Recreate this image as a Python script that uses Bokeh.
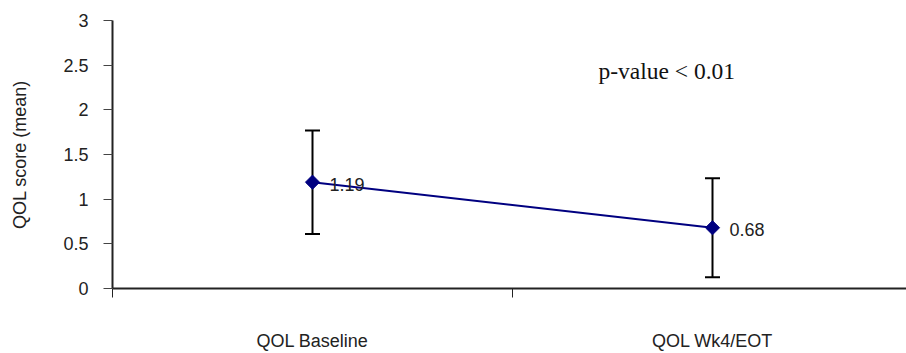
import math
from bokeh.plotting import figure
from bokeh.models import Range1d, FixedTicker, Whisker, TeeHead, ColumnDataSource, Label
from bokeh.core.properties import value
from bokeh.embed import file_html
from bokeh.resources import INLINE

categories = ["QOL Baseline", "QOL Wk4/EOT"]
means = [1.19, 0.68]
errors = [0.58, 0.555]
y_ticks = [0, 0.5, 1, 1.5, 2, 2.5, 3]
y_tick_labels = ["0", "0.5", "1", "1.5", "2", "2.5", "3"]
annotation_text = "p-value < 0.01"
y_title = "QOL score (mean)"

FONT = "Liberation Sans"

xs = [i + 0.5 for i in range(len(categories))]
src = ColumnDataSource(dict(
    x=xs, y=means,
    upper=[m + e for m, e in zip(means, errors)],
    lower=[m - e for m, e in zip(means, errors)],
    lbl=[f"{m:.2f}" for m in means],
))

p = figure(width=906, height=353, output_backend="svg", toolbar_location=None,
           x_range=Range1d(0, 1.985), y_range=Range1d(0, 3),
           min_border_left=112, min_border_top=20, min_border_bottom=64,
           min_border_right=0, outline_line_color=None)
p.xgrid.visible = False
p.ygrid.visible = False

# x axis
xa = p.xaxis[0]
xa.ticker = FixedTicker(ticks=xs, minor_ticks=list(range(len(categories) + 1)))
xa.major_label_overrides = {x: c for x, c in zip(xs, categories)}
xa.major_tick_out = 0
xa.major_tick_in = 0
xa.minor_tick_out = 0
xa.minor_tick_in = -9
xa.minor_tick_line_color = "#222"
xa.axis_line_color = "#222"
xa.axis_line_width = 2
xa.major_label_standoff = 42
xa.major_label_text_font = FONT
xa.major_label_text_font_size = "18px"
xa.major_label_text_color = "#222"

# y axis
ya = p.yaxis[0]
ya.ticker = FixedTicker(ticks=y_ticks, minor_ticks=[])
ya.major_label_overrides = {t: l for t, l in zip(y_ticks, y_tick_labels)}
ya.major_tick_out = 9
ya.major_tick_in = 0
ya.minor_tick_out = 0
ya.minor_tick_in = 0
ya.major_tick_line_color = "#444"
ya.axis_line_color = "#222"
ya.axis_line_width = 2
ya.major_label_standoff = 15
ya.major_label_text_font = FONT
ya.major_label_text_font_size = "18px"
ya.major_label_text_color = "#222"
ya.axis_label = y_title
ya.axis_label_text_font = FONT
ya.axis_label_text_font_size = "18px"
ya.axis_label_text_font_style = "normal"
ya.axis_label_text_color = "#222"
ya.axis_label_standoff = 30

# error bars
head = dict(size=15, line_width=2, line_color="black")
p.add_layout(Whisker(base="x", upper="upper", lower="lower", source=src,
                     line_width=2, line_color="black",
                     upper_head=TeeHead(**head), lower_head=TeeHead(**head)))

p.line("x", "y", source=src, line_color="#000080", line_width=2)
p.scatter("x", "y", source=src, marker="square", angle=math.pi / 4, size=10,
          fill_color="#000080", line_color="#000080")
p.text("x", "y", text="lbl", source=src, x_offset=17, y_offset=2,
       text_baseline="middle", text_font=value(FONT), text_font_size="18px",
       text_color="#222")

p.add_layout(Label(x=1.215, y=2.43, text=annotation_text, text_baseline="middle",
                   text_font="Liberation Serif", text_font_size="23.5px",
                   text_color="#111"))

open("out.html", "w").write(file_html(p, INLINE))
